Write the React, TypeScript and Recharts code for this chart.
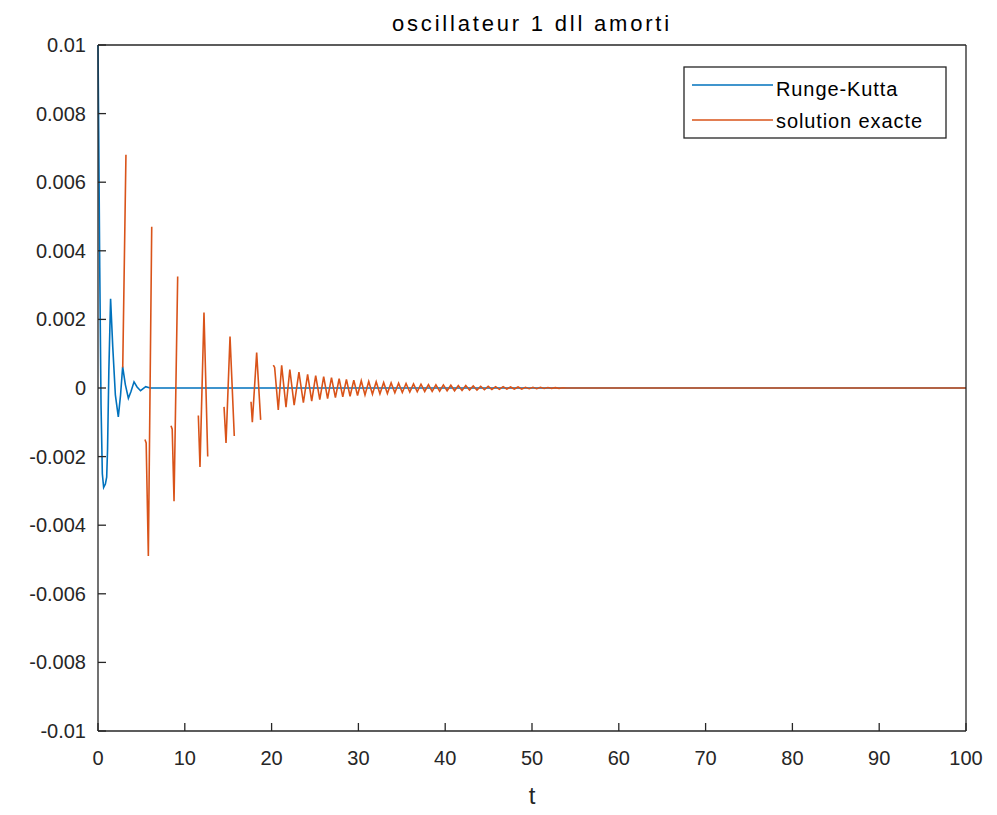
import React from 'react';
import { LineChart, Line, XAxis, YAxis, Legend } from 'recharts';

// [t, value] pairs
const rungeKutta: [number, number][] = [
  [0, 0.01], [0.08, 0.0075], [0.2, 0.0035], [0.35, -0.0005], [0.5, -0.0025], [0.65, -0.0029],
  [0.85, -0.0028], [1.0, -0.0026], [1.1, -0.0018], [1.25, 0.0005], [1.45, 0.0026], [1.7, 0.0012],
  [2.0, -0.0002], [2.34, -0.00084], [2.6, -0.0002], [2.84, 0.00062], [3.15, 0.0001], [3.5, -0.0003],
  [3.8, -0.0001], [4.15, 0.00018], [4.5, 0.00003], [4.9, -0.00008], [5.5, 0.00004], [6.0, 0], [100, 0],
];

const solutionExacte: [number, number | null][] = [
  [2.85, 0.0006], [3.22, 0.0068], [4.0, null],
  [5.41, -0.0015], [5.55, -0.0016], [5.8, -0.0049], [6.19, 0.0047], [7.0, null],
  [8.41, -0.0011], [8.55, -0.0012], [8.76, -0.0033], [9.18, 0.00325], [10.0, null],
  [11.56, -0.0008], [11.75, -0.0023], [12.21, 0.0022], [12.64, -0.002], [13.5, null],
  [14.52, -0.00055], [14.75, -0.0016], [15.21, 0.0015], [15.7, -0.0014], [16.5, null],
  [17.63, -0.0004], [17.78, -0.001], [18.28, 0.00103], [18.74, -0.00093], [19.5, null],
  [20.2, 0.00067], [20.35, 0.0006], [20.77, -0.00064], [21.16, 0.00066], [21.66, -0.00056],
  [22.1, 0.00054], [22.6, -0.0005], [23.15, 0.00046], [23.66, -0.00043], [24.15, 0.0004],
  [24.62, -0.00038], [25.08, 0.00036], [25.55, -0.00034], [26.0, 0.00033], [26.45, -0.00031],
  [26.9, 0.0003], [27.35, -0.00028], [27.78, 0.00027], [28.2, -0.00026], [28.62, 0.00025],
  [29.04, -0.00024], [29.47, 0.00023], [29.9, -0.00022], [30.33, 0.00021], [30.76, -0.0002],
  [31.19, 0.00019], [31.62, -0.00018], [32.05, 0.00018], [32.48, -0.00017], [32.91, 0.00016],
  [33.34, -0.00016], [33.77, 0.00015], [34.2, -0.00014], [34.63, 0.00014], [35.06, -0.00013],
  [35.49, 0.00013], [35.92, -0.00012], [36.35, 0.00012], [36.78, -0.00011], [37.21, 0.00011],
  [37.64, -0.0001], [38.07, 0.0001], [38.5, -0.0001], [38.93, 0.00009], [39.36, -0.00009],
  [39.79, 0.00009], [40.22, -0.00008], [40.65, 0.00008], [41.08, -0.00008], [41.51, 0.00007],
  [41.94, -0.00007], [42.37, 0.00007], [42.8, -0.00006], [43.23, 0.00006], [43.66, -0.00006],
  [44.09, 0.00005], [44.52, -0.00005], [44.95, 0.00005], [45.38, -0.00004], [45.81, 0.00004],
  [46.24, -0.00004], [46.67, 0.00004], [47.1, -0.00003], [47.53, 0.00003], [47.96, -0.00003],
  [48.39, 0.00003], [48.82, -0.00003], [49.25, 0.00002], [49.68, -0.00002], [50.11, 0.00002],
  [50.54, -0.00002], [50.97, 0.00002], [51.4, -0.000015], [51.83, 0.000015], [52.26, -0.00001],
  [52.69, 0.00001], [53.12, -0.00001], [53.55, 0.000005], [54.0, 0], [100, 0],
];

const xTicks = [0, 10, 20, 30, 40, 50, 60, 70, 80, 90, 100];
const xTickLabels = ['0', '10', '20', '30', '40', '50', '60', '70', '80', '90', '100'];
const yTicks = [-0.01, -0.008, -0.006, -0.004, -0.002, 0, 0.002, 0.004, 0.006, 0.008, 0.01];
const yTickLabels = ['-0.01', '-0.008', '-0.006', '-0.004', '-0.002', '0', '0.002', '0.004', '0.006', '0.008', '0.01'];

const seriesNames = ['Runge-Kutta', 'solution exacte'];
const seriesColors = ['#0072BD', '#D95319'];
const titleText = 'oscillateur 1 dll amorti';
const xLabelText = 't';

const rkData = rungeKutta.map(([t, v]) => ({ t, v }));
const exData = solutionExacte.map(([t, v]) => ({ t, v }));

const AX = '#262626';
const FONT = "'Liberation Sans', Arial, Helvetica, sans-serif";
const TICK_LEN = 8;

const W = 981;
const H = 806;
// plot area: x 90..958, y 37..723 (chart coords)
const M = { top: 36, right: 22, bottom: 82, left: 89 };

const labelFor = (ticks: number[], labels: string[], v: number) => {
  let best = 0;
  for (let i = 0; i < ticks.length; i++) if (Math.abs(ticks[i] - v) < Math.abs(ticks[best] - v)) best = i;
  return labels[best];
};

const LeftTick = (p: any) => {
  const { x, y, payload } = p;
  return (
    <g>
      <line x1={x + 12} x2={x + 12 + TICK_LEN} y1={y} y2={y} stroke={AX} strokeWidth={1.3} />
      <text x={x} y={y + 7} textAnchor="end" fontSize={20} fontFamily={FONT} fill={AX}>
        {labelFor(yTicks, yTickLabels, payload.value)}
      </text>
    </g>
  );
};

const RightTick = (p: any) => {
  const { x, y } = p;
  return <line x1={x} x2={x - TICK_LEN} y1={y} y2={y} stroke={AX} strokeWidth={1.3} />;
};

const BottomTick = (p: any) => {
  const { x, y, payload } = p;
  return (
    <g>
      <line x1={x} x2={x} y1={y} y2={y - TICK_LEN} stroke={AX} strokeWidth={1.3} />
      <text x={x} y={y + 34} textAnchor="middle" fontSize={20} fontFamily={FONT} fill={AX}>
        {labelFor(xTicks, xTickLabels, payload.value)}
      </text>
    </g>
  );
};

const TopTick = (p: any) => {
  const { x, y } = p;
  return <line x1={x} x2={x} y1={y} y2={y + TICK_LEN} stroke={AX} strokeWidth={1.3} />;
};

const LegendBox = () => (
  <svg width={265} height={74} style={{ display: 'block' }}>
    <rect x={1} y={1} width={262} height={71} fill="#fff" stroke={AX} strokeWidth={1.3} />
    {seriesNames.map((n, i) => (
      <g key={n}>
        <line x1={9} x2={90} y1={19 + i * 35} y2={19 + i * 35} stroke={seriesColors[i]} strokeWidth={1.5} />
        <text x={93} y={30 + i * 32} fontSize={20} fontFamily={FONT} fill="#000" letterSpacing={0.9}>
          {n}
        </text>
      </g>
    ))}
  </svg>
);

export default function App() {
  const plotCx = 90 + 868 / 2;
  return (
    <div style={{ position: 'relative', width: W, height: H, background: '#fff' }}>
      <LineChart width={W} height={H} margin={M}>
        <XAxis
          xAxisId="b"
          dataKey="t"
          type="number"
          domain={[0, 100]}
          ticks={xTicks}
          height={1}
          tickSize={0}
          tickMargin={0}
          axisLine={{ stroke: AX, strokeWidth: 1.3 }}
          tickLine={false}
          tick={BottomTick}
          interval={0}
        />
        <XAxis
          xAxisId="t"
          orientation="top"
          dataKey="t"
          type="number"
          domain={[0, 100]}
          ticks={xTicks}
          height={1}
          tickSize={0}
          tickMargin={0}
          axisLine={{ stroke: AX, strokeWidth: 1.3 }}
          tickLine={false}
          tick={TopTick}
          interval={0}
        />
        <YAxis
          yAxisId="l"
          type="number"
          domain={[-0.01, 0.01]}
          ticks={yTicks}
          width={1}
          tickSize={0}
          tickMargin={12}
          axisLine={{ stroke: AX, strokeWidth: 1.3 }}
          tickLine={false}
          tick={LeftTick}
          interval={0}
        />
        <YAxis
          yAxisId="r"
          orientation="right"
          type="number"
          domain={[-0.01, 0.01]}
          ticks={yTicks}
          width={1}
          tickSize={0}
          tickMargin={0}
          axisLine={{ stroke: AX, strokeWidth: 1.3 }}
          tickLine={false}
          tick={RightTick}
          interval={0}
        />
        <Line
          xAxisId="b"
          yAxisId="l"
          data={rkData}
          dataKey="v"
          name={seriesNames[0]}
          stroke={seriesColors[0]}
          strokeWidth={1.6}
          dot={false}
          type="linear"
          isAnimationActive={false}
        />
        <Line
          xAxisId="b"
          yAxisId="l"
          data={exData}
          dataKey="v"
          name={seriesNames[1]}
          stroke={seriesColors[1]}
          strokeWidth={1.6}
          dot={false}
          type="linear"
          connectNulls={false}
          isAnimationActive={false}
        />
        <Legend
          layout="vertical"
          align="center"
          verticalAlign="middle"
          wrapperStyle={{ position: 'absolute', top: 58, left: 675, width: 265, height: 74 }}
          content={() => <LegendBox />}
        />
      </LineChart>
      <svg
        width={W}
        height={H}
        style={{ position: 'absolute', left: 0, top: 0, pointerEvents: 'none' }}
      >
        <text x={plotCx} y={23} textAnchor="middle" fontSize={22} fontFamily={FONT} fill="#000" letterSpacing={2.8}>
          {titleText}
        </text>
        <text x={plotCx} y={796} textAnchor="middle" fontSize={24} fontFamily={FONT} fill={AX}>
          {xLabelText}
        </text>
      </svg>
    </div>
  );
}
